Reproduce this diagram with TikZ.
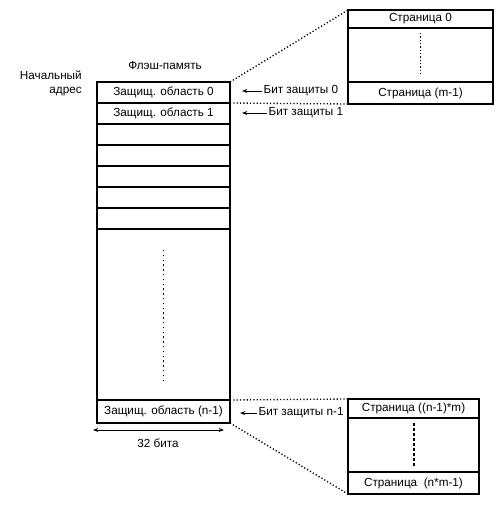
\documentclass[tikz,border=0pt]{standalone}
\usepackage{fontspec}
\setmainfont{Liberation Sans}
\usetikzlibrary{arrows.meta,positioning}

\begin{document}
\begin{tikzpicture}[x=0.75pt, y=-0.75pt, >={Stealth[length=4pt,width=3pt]},
    font=\fontsize{8.8}{10}\selectfont,
    cell/.style={draw, line width=1.5pt, outer sep=0pt, inner sep=0pt, minimum width=99.75pt, minimum height=15.75pt},
    page/.style={draw, line width=1.5pt, outer sep=0pt, inner sep=0pt},
    dots/.style={line width=1pt, dash pattern=on 0.9pt off 1.6pt},
    lbl/.style={inner sep=1pt}]
  \useasboundingbox (0,0) rectangle (496,507);

  % --- 1. Flash memory column ---
  \node[cell, anchor=north west] (r0) at (97,82) {Защищ. область 0};
  \node[cell, below=0pt of r0] (r1) {Защищ. область 1};
  \foreach \i [evaluate=\i as \j using int(\i-1)] in {2,...,6}
    \node[cell, below=0pt of r\j] (r\i) {};
  \node[cell, below=0pt of r6, minimum height=128.25pt] (mid) {};
  \node[cell, below=0pt of mid, minimum height=17.25pt] (rn) {Защищ. область (n-1)};
  \draw[line width=1pt, dash pattern=on 1pt off 2.6pt] ([yshift=-15.75pt]mid.north) -- ([yshift=15pt]mid.south);

  % --- 2. Titles ---
  \node (flash) at (165,65) {Флэш-память};
  \node[anchor=north east, align=right, inner sep=0pt] (addr) at (82,71) {Начальный\\адрес};

  % --- 3. Width arrow ---
  \coordinate (wl) at (93,430);
  \coordinate (wr) at (224,430);
  \draw[<->, line width=0.75pt] (wl) -- (wr);
  \node (width) at (158,443) {32 бита};

  % --- 4. Protection bits ---
  \node[lbl, anchor=west] (b0) at (262,91) {Бит защиты 0};
  \coordinate (b0t) at (242,91);
  \draw[->, line width=0.75pt] (b0) -- (b0t);
  \node[lbl, anchor=west] (b1) at (267,113) {Бит защиты 1};
  \coordinate (b1t) at (242,113);
  \draw[->, line width=0.75pt] (b1) -- (b1t);
  \node[lbl, anchor=west] (bn) at (257,413) {Бит защиты n-1};
  \coordinate (bnt) at (240,413);
  \draw[->, line width=0.75pt] (bn) -- (bnt);

  % --- 5. Pages of area 0 ---
  \node[page, anchor=north west, minimum width=108.75pt, minimum height=13.5pt] (pa) at (348,10) {Страница 0};
  \node[page, below=0pt of pa, minimum width=108.75pt, minimum height=40.5pt] (pm) {};
  \node[page, below=0pt of pm, minimum width=108.75pt, minimum height=16.5pt] (pb) {Страница (m-1)};
  \draw[dots] ([yshift=-3.75pt]pm.north) -- ([yshift=5.25pt]pm.south);
  \draw[dots] (r0.north east) -- (pa.north west);
  \draw[dots] (r0.south east) -- (pb.south west);

  % --- 6. Pages of area n-1 ---
  \node[page, anchor=north west, minimum width=98.25pt, minimum height=14.25pt] (qa) at (348,399) {Страница ((n-1)*m)};
  \node[page, below=0pt of qa, minimum width=98.25pt, minimum height=40.5pt] (qm) {};
  \node[page, below=0pt of qm, minimum width=98.25pt, minimum height=16.5pt] (qb) {Страница~ (n*m-1)};
  \draw[line width=1.5pt, dash pattern=on 2.25pt off 1.5pt] ([yshift=-3.75pt]qm.north) -- ([yshift=3.75pt]qm.south);
  \draw[dots] (rn.north east) -- (qa.north west);
  \draw[dots] (rn.south east) -- (qb.south west);

\end{tikzpicture}
\end{document}
